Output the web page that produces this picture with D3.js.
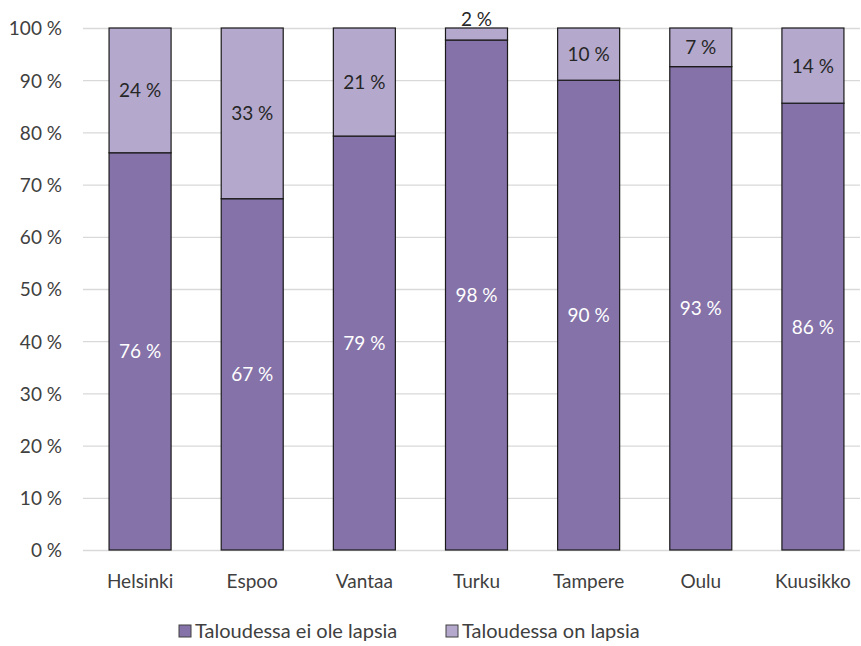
<!DOCTYPE html>
<html lang="fi">
  <head>
    <meta charset="utf-8">
    <title>Taloudet</title>
    <script src="https://d3js.org/d3.v7.js"></script>
    <style>
      body { margin: 0; background: #fff; }
      text { font-family: Lato, "Open Sans", sans-serif; }
    </style>
  </head>
  <body>
    <svg></svg>
  <script>

// data
  const cities = ["Helsinki", "Espoo", "Vantaa", "Turku", "Tampere", "Oulu", "Kuusikko"];
  const noKids = [76.1, 67.3, 79.3, 97.7, 90.0, 92.6, 85.6];
  const kids = [23.9, 32.7, 20.7, 2.3, 10.0, 7.4, 14.4];
  const yTicks = [0, 10, 20, 30, 40, 50, 60, 70, 80, 90, 100];
  const seriesNames = ["Taloudessa ei ole lapsia", "Taloudessa on lapsia"];
  const colors = ["#8472a8", "#b4a9cd"];

  const w = 861;
  const h = 646;
  const margin = {top: 28, right: 1, bottom: 96, left: 83};

  const svg = d3.select("svg")
      .attr("width", w)
      .attr("height", h);

  const xScale = d3.scaleBand()
      .domain(cities)
      .range([84, 869])
      .paddingInner(0.447)
      .paddingOuter(0.2235);

  const yScale = d3.scaleLinear()
      .domain([0, 100])
      .range([h - margin.bottom, margin.top]);

// gridlines + y labels
  const yAxis = d3.axisLeft(yScale)
      .tickValues(yTicks)
      .tickSize(-(w - margin.left - margin.right))
      .tickFormat(d => d + " %");

  const gy = svg.append("g")
      .attr("transform", `translate(${margin.left},0)`)
      .call(yAxis);
  gy.select(".domain").remove();
  gy.selectAll(".tick line")
      .attr("stroke", "#d9d9d9")
      .attr("stroke-width", 1.3);
  gy.selectAll(".tick text")
      .attr("x", -21)
      .attr("dy", "0.36em")
      .attr("fill", "#404040")
      .style("font-size", "19px");

// x labels
  const xAxis = d3.axisBottom(xScale).tickSize(0);
  const gx = svg.append("g")
      .attr("transform", `translate(0,${h - margin.bottom})`)
      .call(xAxis);
  gx.select(".domain").remove();
  gx.selectAll(".tick text")
      .attr("y", 38)
      .attr("dy", 0)
      .attr("fill", "#404040")
      .style("font-size", "19px");

// stacked bars
  const rows = cities.map((c, i) => ({city: c, a: noKids[i], b: kids[i]}));
  const stacked = d3.stack().keys(["a", "b"])(rows);

  const layers = svg.append("g")
    .selectAll("g")
    .data(stacked)
    .join("g")
      .attr("fill", (d, i) => colors[i]);

  layers.selectAll("rect")
    .data(d => d)
    .join("rect")
      .attr("x", d => xScale(d.data.city))
      .attr("y", d => yScale(d[1]))
      .attr("width", xScale.bandwidth())
      .attr("height", d => yScale(d[0]) - yScale(d[1]))
      .attr("stroke", "#1a1a1a")
      .attr("stroke-width", 1.2);

// value labels
  layers.each(function(layer, li) {
    d3.select(this).selectAll("text")
      .data(layer)
      .join("text")
        .attr("x", d => xScale(d.data.city) + xScale.bandwidth() / 2)
        .attr("y", d => {
          const hgt = yScale(d[0]) - yScale(d[1]);
          if (hgt < 16) return yScale(d[1]) - 2;
          return (yScale(d[0]) + yScale(d[1])) / 2 + 7;
        })
        .attr("text-anchor", "middle")
        .attr("fill", li === 0 ? "#ffffff" : "#262626")
        .style("font-size", "19px")
        .text(d => Math.round(d[1] - d[0]) + " %");
  });

// legend
  const legendX = [179, 446];
  const legend = svg.append("g")
    .selectAll("g")
    .data(seriesNames)
    .join("g")
      .attr("transform", (d, i) => `translate(${legendX[i]},${h - 8})`);

  legend.append("rect")
      .attr("x", 0)
      .attr("y", -13)
      .attr("width", 12)
      .attr("height", 12)
      .attr("fill", (d, i) => colors[i])
      .attr("stroke", "#404040")
      .attr("stroke-width", 1);

  legend.append("text")
      .attr("x", 16)
      .attr("y", 0)
      .attr("fill", "#404040")
      .style("font-size", "20px")
      .text(d => d);

    </script>
  </body>
</html>
